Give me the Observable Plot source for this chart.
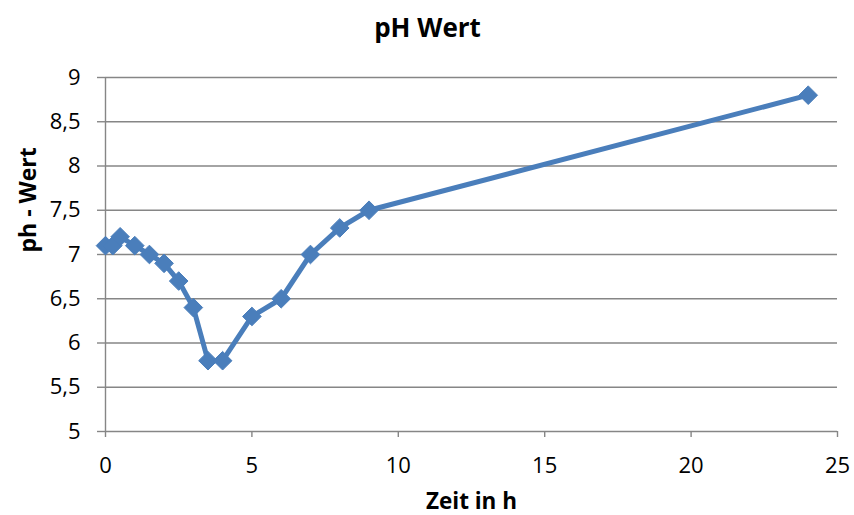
<!DOCTYPE html>
<html>
<head>
<meta charset="utf-8">
<script src="https://cdn.jsdelivr.net/npm/d3@7"></script>
<script src="https://cdn.jsdelivr.net/npm/@observablehq/plot@0.6"></script>
<style>
  html, body { margin: 0; padding: 0; background: #fff; }
  svg { display: block; }
</style>
</head>
<body>
<div id="chart"></div>
<script>
const hours = [0, 0.25, 0.5, 1, 1.5, 2, 2.5, 3, 3.5, 4, 5, 6, 7, 8, 9, 24];
const phValues = [7.1, 7.1, 7.2, 7.1, 7.0, 6.9, 6.7, 6.4, 5.8, 5.8, 6.3, 6.5, 7.0, 7.3, 7.5, 8.8];
const xTicks = [0, 5, 10, 15, 20, 25];
const yTicks = [5, 5.5, 6, 6.5, 7, 7.5, 8, 8.5, 9];
const title = "pH Wert";
const xTitle = "Zeit in h";
const yTitle = "ph - Wert";

const data = hours.map((h, i) => ({h, ph: phValues[i]}));
const fmt = d => String(d).replace(".", ",");
const grid = "#868686";
const blue = "#4a7ebb";
const font = "'Open Sans', sans-serif";

const plot = Plot.plot({
  width: 854,
  height: 515,
  marginLeft: 105,
  marginRight: 17,
  marginTop: 77,
  marginBottom: 84,
  style: {fontFamily: font, fontSize: "22px", color: "#000", background: "#fff"},
  x: {domain: [0, 25]},
  y: {domain: [5, 9]},
  marks: [
    Plot.ruleY(yTicks, {stroke: grid, strokeWidth: 1.4}),
    Plot.ruleX([0], {stroke: grid, strokeWidth: 1.4}),
    Plot.axisY({ticks: yTicks, tickSize: 8, tickPadding: 17, tickFormat: fmt, stroke: grid, strokeWidth: 1.4, strokeOpacity: 1, label: null, fontSize: 22, fill: "#000"}),
    Plot.axisX({ticks: xTicks, tickSize: 6, tickPadding: 20, tickFormat: fmt, stroke: grid, strokeWidth: 1.4, strokeOpacity: 1, label: null, fontSize: 22, fill: "#000"}),
    Plot.line(data, {x: "h", y: "ph", stroke: blue, strokeWidth: 5, strokeLinejoin: "round"}),
    Plot.dot(data, {x: "h", y: "ph", symbol: "diamond2", r: 8.4, fill: blue, stroke: blue, strokeWidth: 1}),
    Plot.text([title], {frameAnchor: "top", lineAnchor: "middle", dx: -44, dy: -49, fontSize: 26, fontWeight: "bold", fill: "#000"}),
    Plot.text([xTitle], {frameAnchor: "bottom", lineAnchor: "middle", dy: 70, fontSize: 22.5, fontWeight: "bold", fill: "#000"}),
    Plot.text([yTitle], {frameAnchor: "left", lineAnchor: "middle", dx: -77, dy: -2, rotate: -90, fontSize: 23, fontWeight: "bold", fill: "#000"})
  ]
});
document.getElementById("chart").append(plot);
</script>
</body>
</html>
